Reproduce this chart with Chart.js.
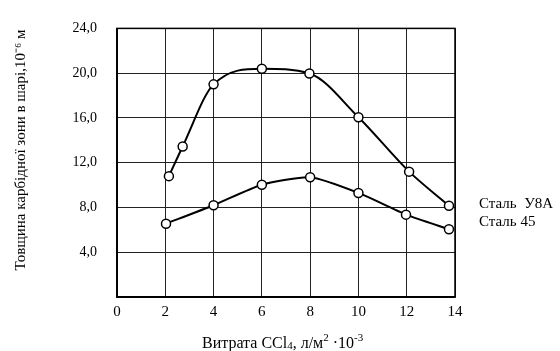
<!DOCTYPE html>
<html><head><meta charset="utf-8">
<script src="https://cdn.jsdelivr.net/npm/chart.js@4"></script>
<style>html,body{margin:0;padding:0;background:#fff}#w{width:560px;height:351px}</style>
</head><body><div id="w"><canvas id="c"></canvas></div>
<script>
const seriesNames = ['Сталь  У8А', 'Сталь 45'];
const xU8A = [2.15, 2.72, 4.0, 6.0, 7.97, 10.0, 12.1, 13.75];
const yU8A = [10.8, 13.45, 19.0, 20.4, 19.97, 16.06, 11.2, 8.15];
const x45 = [2.03, 4.0, 6.0, 8.0, 10.0, 11.97, 13.75];
const y45 = [6.55, 8.2, 10.03, 10.7, 9.3, 7.36, 6.06];
const xTicks = [0, 2, 4, 6, 8, 10, 12, 14];
const yTicks = [0, 4, 8, 12, 16, 20, 24];
const yTitle = 'Товщина карбідної зони в шарі,10⁻⁶ м';

const FONT = '"Liberation Serif", "Times New Roman", serif';
function pts(xs, ys){ return xs.map((x,i)=>({x, y: ys[i]})); }

const labelsPlugin = {
  id: 'labels',
  afterDraw(chart){
    const ctx = chart.ctx;
    ctx.save();
    ctx.fillStyle = '#000';
    ctx.textBaseline = 'middle';
    ctx.textAlign = 'left';
    ctx.font = '15px ' + FONT;
    ctx.fillText(seriesNames[0], 479, 204);
    ctx.fillText(seriesNames[1], 479, 222);
    // x title with sub/superscripts
    const parts = [
      ['Витрата CCl', 0], ['4', 1], [', л/м', 0], ['2', -1], [' ·10', 0], ['-3', -1]
    ];
    let x = 202; const base = 348;
    ctx.textBaseline = 'alphabetic';
    for (const [t, k] of parts) {
      if (k === 0) { ctx.font = '16px ' + FONT; ctx.fillText(t, x, base); }
      else if (k === 1) { ctx.font = '11px ' + FONT; ctx.fillText(t, x, base + 1); }
      else { ctx.font = '11px ' + FONT; ctx.fillText(t, x, base - 7); }
      x += ctx.measureText(t).width;
    }
    // y title
    ctx.translate(21, 150);
    ctx.rotate(-Math.PI/2);
    ctx.textAlign = 'center';
    ctx.textBaseline = 'middle';
    ctx.font = '15px ' + FONT;
    ctx.fillText(yTitle, 0, 0);
    ctx.restore();
  }
};

new Chart(document.getElementById('c'), {
  type: 'scatter',
  data: {
    datasets: [
      { label: seriesNames[0], data: pts(xU8A, yU8A), showLine: true, cubicInterpolationMode: 'monotone',
        borderColor: '#000', borderWidth: 2, pointRadius: 4.5, pointBackgroundColor: '#fff', pointBorderColor: '#000', pointBorderWidth: 1.5 },
      { label: seriesNames[1], data: pts(x45, y45), showLine: true, tension: 0.2,
        borderColor: '#000', borderWidth: 2, pointRadius: 4.5, pointBackgroundColor: '#fff', pointBorderColor: '#000', pointBorderWidth: 1.5 }
    ]
  },
  options: {
    responsive: true, maintainAspectRatio: false, animation: false,
    layout: { padding: { left: 0, right: 105, top: 21, bottom: 0 } },
    plugins: { legend: { display: false }, tooltip: { enabled: false } },
    scales: {
      x: {
        type: 'linear', min: 0, max: 14,
        afterBuildTicks(s){ s.ticks = xTicks.map(v=>({value:v})); },
        afterFit(s){ s.height = 54; },
        grid: { color: '#222', lineWidth: 1, drawTicks: false },
        border: { color: '#000', width: 1.5 },
        ticks: { color: '#000', padding: 6, font: { family: FONT, size: 15 } }
      },
      y: {
        type: 'linear', min: 0, max: 24,
        afterBuildTicks(s){ s.ticks = yTicks.map(v=>({value:v})); },
        afterFit(s){ s.width = 117; },
        grid: { color: '#222', lineWidth: 1, drawTicks: false },
        border: { color: '#000', width: 1.5 },
        ticks: { color: '#000', padding: 20, font: { family: FONT, size: 14 },
          callback: v => v === 0 ? '' : v.toFixed(1).replace('.', ',') }
      }
    }
  },
  plugins: [labelsPlugin, {
    id: 'frame',
    beforeDatasetsDraw(chart){
      const {ctx, chartArea:a} = chart;
      ctx.save(); ctx.strokeStyle = '#000'; ctx.lineWidth = 1.5;
      ctx.strokeRect(a.left, a.top, a.right - a.left, a.bottom - a.top);
      ctx.restore();
    }
  }]
});
</script></body></html>
